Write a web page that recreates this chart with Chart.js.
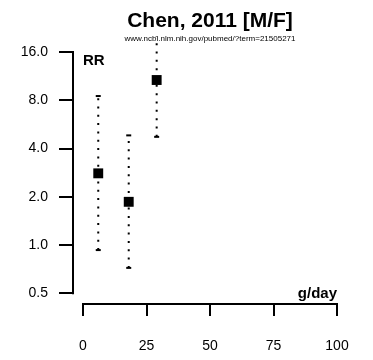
<!DOCTYPE html>
<html><head><meta charset="utf-8">
<script src="https://cdn.jsdelivr.net/npm/chart.js@4/dist/chart.umd.min.js"></script>
<style>html,body{margin:0;padding:0;background:#fff}#wrap{width:373px;height:360px}</style>
</head><body><div id="wrap"><canvas id="c" width="373" height="360"></canvas></div>
<script>
// ---- data ----
const intakes = [6, 18, 29];          // g/day
const rr = [2.8, 1.86, 10.7];         // relative risk
const ciLower = [0.93, 0.72, 4.73];
const ciUpper = [8.5, 4.83, 20];
const xTicks = [0, 25, 50, 75, 100];
const yTicks = [0.5, 1, 2, 4, 8, 16];
const titleText = 'Chen, 2011 [M/F]';
const subtitleText = 'www.ncbi.nlm.nih.gov/pubmed/?term=21505271';
const yLabel = 'RR';
const xLabel = 'g/day';

const FONT = '"Liberation Sans", Arial, Helvetica, sans-serif';
const yMin = 0.4286, yMax = 16;

const ciDatasets = intakes.map((x, i) => ({
  type: 'line',
  data: [{x: x, y: ciLower[i]}, {x: x, y: ciUpper[i]}],
  borderColor: '#000',
  borderWidth: 2,
  borderDash: [2, 6.33],
  borderCapStyle: 'butt',
  pointStyle: 'line',
  pointRadius: ctx => (ctx.raw && ctx.raw.y > yMax) ? 0 : 2.5,
  pointBorderWidth: 2,
  pointBorderColor: '#000',
  pointBackgroundColor: '#000',
  clip: false,
  order: 2
}));

const pointDataset = {
  type: 'scatter',
  data: intakes.map((x, i) => ({x: x, y: rr[i]})),
  pointStyle: 'rect',
  pointRadius: 7,
  backgroundColor: '#000',
  borderColor: '#000',
  borderWidth: 0,
  clip: false,
  order: 1
};

const decor = {
  id: 'decor',
  afterDraw(chart) {
    const ctx = chart.ctx, xs = chart.scales.x, ys = chart.scales.y, ca = chart.chartArea;
    ctx.save();
    ctx.strokeStyle = '#000';
    ctx.lineWidth = 2;
    ctx.lineCap = 'square';
    // y axis line
    ctx.beginPath();
    ctx.moveTo(ca.left, ys.getPixelForValue(yTicks[0]));
    ctx.lineTo(ca.left, ys.getPixelForValue(yTicks[yTicks.length - 1]));
    ctx.stroke();
    // x axis line
    ctx.beginPath();
    ctx.moveTo(xs.getPixelForValue(xTicks[0]), ca.bottom);
    ctx.lineTo(xs.getPixelForValue(xTicks[xTicks.length - 1]), ca.bottom);
    ctx.stroke();
    // texts
    ctx.fillStyle = '#000';
    ctx.textAlign = 'center';
    ctx.textBaseline = 'alphabetic';
    const cx = (xs.getPixelForValue(xTicks[0]) + xs.getPixelForValue(xTicks[xTicks.length - 1])) / 2;
    ctx.font = 'bold 21px ' + FONT;
    ctx.fillText(titleText, cx, 27);
    ctx.font = '8px ' + FONT;
    ctx.fillText(subtitleText, cx, 40.5);
    ctx.font = 'bold 15px ' + FONT;
    ctx.textAlign = 'left';
    ctx.fillText(yLabel, 83, 65);
    ctx.textAlign = 'right';
    ctx.fillText(xLabel, xs.getPixelForValue(xTicks[xTicks.length - 1]), 298);
    ctx.restore();
  }
};

new Chart(document.getElementById('c'), {
  data: { datasets: [...ciDatasets, pointDataset] },
  options: {
    responsive: false,
    animation: false,
    devicePixelRatio: 1,
    layout: { padding: { top: 52, right: 36, left: 0, bottom: 0 } },
    plugins: { legend: { display: false }, tooltip: { enabled: false }, title: { display: false } },
    scales: {
      x: {
        type: 'linear',
        min: -3.94, max: 100,
        afterBuildTicks: s => { s.ticks = xTicks.map(v => ({value: v})); },
        afterFit: s => { s.height = 56; },
        grid: { display: true, drawOnChartArea: false, drawTicks: true, tickLength: 12, color: '#000', lineWidth: 2 },
        border: { display: false },
        ticks: { color: '#000', font: { family: FONT, size: 14 }, padding: 22, maxRotation: 0, autoSkip: false }
      },
      y: {
        type: 'logarithmic',
        min: yMin, max: yMax,
        afterBuildTicks: s => { s.ticks = yTicks.map(v => ({value: v})); },
        afterFit: s => { s.width = 73; },
        grid: { display: true, drawOnChartArea: false, drawTicks: true, tickLength: 14, color: '#000', lineWidth: 2 },
        border: { display: false },
        ticks: { color: '#000', font: { family: FONT, size: 14 }, padding: 11, autoSkip: false,
                 callback: v => Number(v).toFixed(1) }
      }
    }
  },
  plugins: [decor]
});
</script></body></html>
